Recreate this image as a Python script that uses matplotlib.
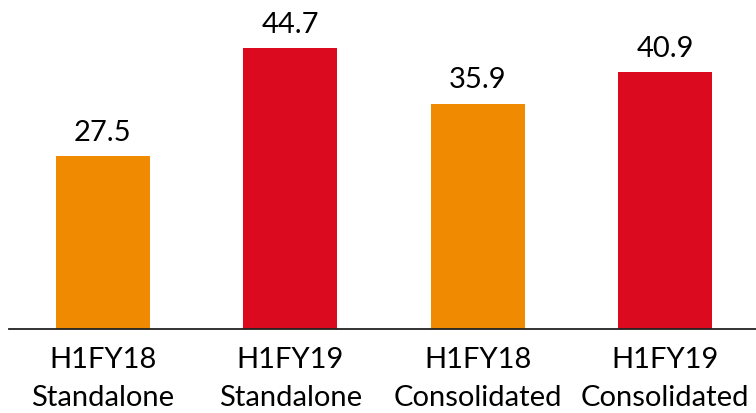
import matplotlib.pyplot as plt

# Half-year figures, standalone vs consolidated
categories = ["H1FY18\nStandalone", "H1FY19\nStandalone", "H1FY18\nConsolidated", "H1FY19\nConsolidated"]
values = [27.5, 44.7, 35.9, 40.9]
colours = ["#F08A00", "#DC0A1E", "#F08A00", "#DC0A1E"]

plt.rcParams['font.family'] = ['Lato', 'DejaVu Sans']

fig = plt.figure(figsize=(7.56, 4.13), dpi=100)
ax = fig.add_axes([9 / 756, 1 - 329 / 413, 750 / 756, 314 / 413])

x = range(len(values))
ax.bar(x, values, width=0.5, color=colours)

for i, v in enumerate(values):
    ax.text(i, v + 1.6, "%.1f" % v, ha="center", va="bottom", fontsize=21)

ax.set_xlim(-0.5, 3.5)
ax.set_ylim(0, 50)
ax.set_xticks(list(x))
ax.set_xticklabels(categories, fontsize=21, linespacing=1.55)
ax.tick_params(axis="x", length=0, pad=13)
ax.set_yticks([])
for side in ["left", "right", "top"]:
    ax.spines[side].set_visible(False)
ax.spines["bottom"].set_linewidth(1.3)
ax.spines["bottom"].set_color("#222222")

fig.savefig("out.png", dpi=100)
